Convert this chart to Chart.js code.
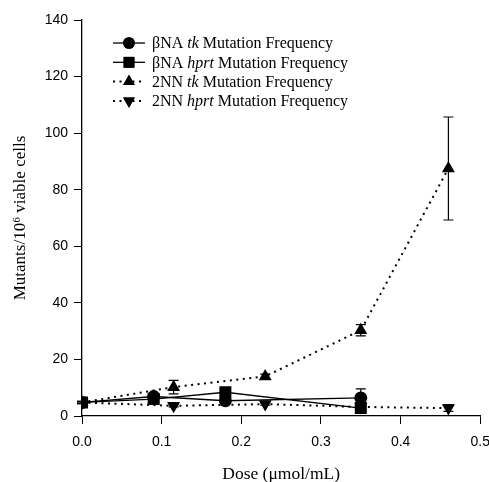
<!DOCTYPE html>
<html>
<head>
<meta charset="utf-8">
<script src="https://cdn.jsdelivr.net/npm/chart.js@4.4.1/dist/chart.umd.min.js"></script>
<style>
html,body{margin:0;padding:0;background:#fff;overflow:hidden;}
#wrap{width:489px;height:482px;overflow:hidden;position:relative;}
canvas{position:absolute;left:0;top:0;}
</style>
</head>
<body>
<div id="wrap"><canvas id="c" width="500" height="482"></canvas></div>
<script>
// ---- data ----
const dosesBNA = [0, 0.09, 0.18, 0.35];
const bnaTk = [4.8, 6.9, 5.4, 6.4];
const bnaTkErr = [0.4, 0.6, 0.6, 3.2];
const bnaHprt = [4.8, 6.0, 8.4, 2.8];
const bnaHprtErr = [0.3, 0.5, 0.8, 0.5];
const dosesNN = [0, 0.115, 0.23, 0.35, 0.46];
const nnTk = [4.8, 10.2, 14.0, 30.3, 87.5];
const nnTkErr = [0.4, 2.4, 0.8, 2.0, 18.2];
const nnHprt = [4.8, 3.6, 4.2, 3.2, 2.8];
const nnHprtErr = [0.3, 0.4, 0.4, 0.4, 1.2];
const xTicks = [0, 0.1, 0.2, 0.3, 0.4, 0.5];
const yTicks = [0, 20, 40, 60, 80, 100, 120, 140];
const legendParts = [
  ["\u03B2NA ", "tk", " Mutation Frequency"],
  ["\u03B2NA ", "hprt", " Mutation Frequency"],
  ["2NN ", "tk", " Mutation Frequency"],
  ["2NN ", "hprt", " Mutation Frequency"]
];

function pts(xs, ys){ return xs.map((x,i)=>({x:x, y:ys[i]})); }
const DOT = [2, 4.5];

const datasets = [
  {label:'bnaTk', data:pts(dosesBNA,bnaTk), err:bnaTkErr, borderColor:'#000', backgroundColor:'#000', borderWidth:1.3,
   pointStyle:'circle', pointRadius:6.5, pointBorderWidth:0, dash:[]},
  {label:'bnaHprt', data:pts(dosesBNA,bnaHprt), err:bnaHprtErr, borderColor:'#000', backgroundColor:'#000', borderWidth:1.3,
   pointStyle:'rect', pointRadius:8.5, pointBorderWidth:0, dash:[]},
  {label:'nnTk', data:pts(dosesNN,nnTk), err:nnTkErr, borderColor:'#000', backgroundColor:'#000', borderWidth:2, borderDash:DOT,
   pointStyle:'triangle', pointRadius:7.5, pointBorderWidth:0, dash:DOT},
  {label:'nnHprt', data:pts(dosesNN,nnHprt), err:nnHprtErr, borderColor:'#000', backgroundColor:'#000', borderWidth:2, borderDash:DOT,
   pointStyle:'triangle', pointRotation:180, pointRadius:7.5, pointBorderWidth:0, dash:DOT}
];

const errorBars = {
  id:'errorBars',
  beforeDatasetsDraw(chart){
    const ctx = chart.ctx, xs = chart.scales.x, ys = chart.scales.y;
    ctx.save();
    ctx.strokeStyle = '#000'; ctx.lineWidth = 1.2; ctx.setLineDash([]);
    chart.data.datasets.forEach(ds=>{
      ds.data.forEach((p,i)=>{
        const e = ds.err[i]; if(!e) return;
        const px = xs.getPixelForValue(p.x);
        const top = ys.getPixelForValue(p.y + e), bot = ys.getPixelForValue(p.y - e);
        ctx.beginPath();
        ctx.moveTo(px, top); ctx.lineTo(px, bot);
        ctx.moveTo(px-5, top); ctx.lineTo(px+5, top);
        ctx.moveTo(px-5, bot); ctx.lineTo(px+5, bot);
        ctx.stroke();
      });
    });
    ctx.restore();
  }
};

const customLegend = {
  id:'customLegend',
  afterDraw(chart){
    const ctx = chart.ctx;
    const x0 = 113, x1 = 145, xm = 129, tx = 152, y0 = 43, dy = 19.3;
    ctx.save();
    chart.data.datasets.forEach((ds,i)=>{
      const y = y0 + i*dy;
      ctx.strokeStyle = '#000'; ctx.lineWidth = ds.borderWidth;
      ctx.setLineDash(ds.dash);
      ctx.beginPath(); ctx.moveTo(x0,y); ctx.lineTo(x1,y); ctx.stroke();
      ctx.setLineDash([]);
      ctx.fillStyle = '#000';
      Chart.helpers.drawPoint(ctx, {pointStyle:ds.pointStyle, rotation:ds.pointRotation||0, radius:ds.pointRadius*0.9, borderWidth:0}, xm, y);
      ctx.fill();
      let x = tx;
      ctx.textBaseline = 'middle';
      legendParts[i].forEach((s,k)=>{
        ctx.font = (k===1?'italic ':'') + '16px "Liberation Serif", "Times New Roman", serif';
        ctx.fillText(s, x, y+1);
        x += ctx.measureText(s).width;
      });
    });
    ctx.restore();
  }
};

new Chart(document.getElementById('c'), {
  type:'line',
  data:{datasets:datasets},
  options:{
    responsive:false, animation:false, devicePixelRatio:1,
    layout:{padding:{left:0, right:18, top:20, bottom:0}},
    plugins:{legend:{display:false}, tooltip:{enabled:false}},
    elements:{line:{tension:0, fill:false}},
    scales:{
      x:{type:'linear', min:0, max:0.5,
        afterBuildTicks(s){ s.ticks = xTicks.map(v=>({value:v})); },
        afterFit(s){ s.height = 66; },
        ticks:{callback:v=>v.toFixed(1), color:'#000', padding:10, maxRotation:0,
          font:{family:'"Liberation Sans", Arial, sans-serif', size:14}},
        grid:{drawOnChartArea:false, drawTicks:true, tickLength:8, color:'#000', lineWidth:1},
        border:{display:true, color:'#000', width:1.3},
        title:{display:true, text:'Dose (\u03BCmol/mL)', color:'#000', padding:{top:8,bottom:-3},
          font:{family:'"Liberation Serif", "Times New Roman", serif', size:17.5}}
      },
      y:{type:'linear', min:0, max:140,
        afterBuildTicks(s){ s.ticks = yTicks.map(v=>({value:v})); },
        afterFit(s){ s.width = 82; },
        ticks:{color:'#000', padding:6,
          font:{family:'"Liberation Sans", Arial, sans-serif', size:14}},
        grid:{drawOnChartArea:false, drawTicks:true, tickLength:8, color:'#000', lineWidth:1},
        border:{display:true, color:'#000', width:1.3},
        title:{display:true, text:'Mutants/10\u2076 viable cells', color:'#000', padding:{top:10,bottom:0},
          font:{family:'"Liberation Serif", "Times New Roman", serif', size:17}}
      }
    }
  },
  plugins:[errorBars, customLegend]
});
</script>
</body>
</html>
